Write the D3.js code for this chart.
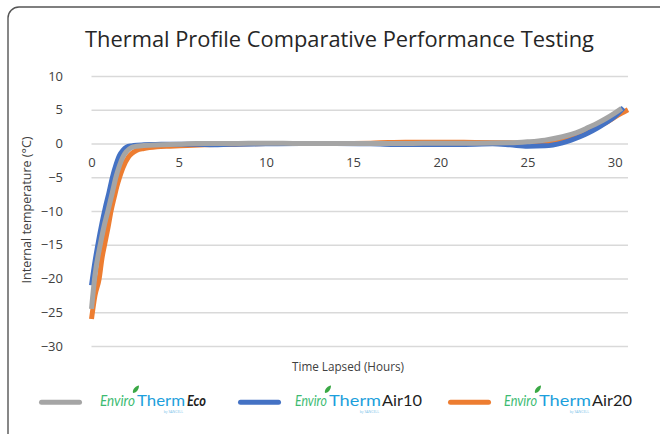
<!DOCTYPE html>
<html>
<head>
<meta charset="utf-8">
<script src="https://cdn.jsdelivr.net/npm/d3@7"></script>
<style>
  body { margin: 0; background: #fff; }
  text { font-family: "Open Sans", "Noto Sans", sans-serif; fill: #404040; }
</style>
</head>
<body>
<script>
// series data (hours, deg C)
var ecoTime  = [0, 0.2, 0.5, 0.7, 0.94, 1.2, 1.4, 1.6, 1.8, 2.0, 2.3, 2.6, 3.0, 4, 5, 6, 8, 10, 12, 14, 16, 18, 20, 22, 24, 25, 26, 27, 27.5, 28, 28.5, 29, 29.5, 30, 30.4];
var ecoTemp  = [-24.5, -19.5, -15, -12.5, -10, -7.2, -5, -3.3, -2.0, -1.2, -0.6, -0.4, -0.3, -0.2, -0.1, 0, 0, 0.05, 0, 0, 0, 0, 0.05, 0.05, 0.1, 0.25, 0.5, 1.0, 1.35, 1.8, 2.4, 3.0, 3.7, 4.5, 5.2];

var air10Time = [0, 0.2, 0.4, 0.6, 0.8, 1.0, 1.2, 1.4, 1.6, 1.8, 2.0, 2.3, 2.6, 3.0, 3.5, 4, 5, 6, 7, 8, 10, 12, 14, 16, 18, 20, 22, 23, 24, 25, 26, 27, 27.5, 28, 28.5, 29, 29.5, 30, 30.5];
var air10Temp = [-21, -17.5, -14.5, -11.8, -9.4, -7.3, -5.0, -3.2, -1.8, -1.0, -0.55, -0.35, -0.25, -0.2, -0.15, -0.1, -0.1, -0.1, -0.2, -0.1, -0.05, 0, 0, -0.05, -0.15, -0.15, -0.1, -0.05, -0.2, -0.4, -0.35, 0.1, 0.5, 1.0, 1.6, 2.3, 3.1, 4.0, 5.3];

var air20Time = [0, 0.2, 0.44, 0.6, 0.75, 0.95, 1.12, 1.3, 1.45, 1.61, 1.8, 2.12, 2.3, 2.6, 3.0, 3.75, 4.5, 5.5, 6.5, 8, 10, 12, 14, 16, 17, 18, 20, 22, 24, 25, 26, 27, 27.5, 28, 28.5, 29, 29.5, 30, 30.4, 30.76];
var air20Temp = [-26, -22.5, -20, -17, -15, -12.4, -10, -8, -6.4, -5, -3.6, -2, -1.5, -1.0, -0.75, -0.5, -0.4, -0.3, -0.2, -0.1, 0, 0, 0, 0.05, 0.15, 0.2, 0.2, 0.15, 0.1, 0.05, 0.2, 0.6, 0.95, 1.4, 1.9, 2.5, 3.1, 3.9, 4.5, 5.0];

var xTicks = [0, 5, 10, 15, 20, 25, 30];
var yTicks = [10, 5, 0, -5, -10, -15, -20, -25, -30];

var W = 660, H = 434;
var plotLeft = 91.5, plotRight = 628, plotTop = 76, plotBottom = 346;

var svg = d3.select("body").append("svg")
    .attr("width", W)
    .attr("height", H);

// frame
svg.append("path")
    .attr("d", "M8,436 L8,18 A11,11 0 0 1 19,7 L662,7")
    .attr("fill", "none")
    .attr("stroke", "#555")
    .attr("stroke-width", 1.4);

var x = d3.scaleLinear().domain([0, 30.76]).range([plotLeft, plotRight]);
var y = d3.scaleLinear().domain([-30, 10]).range([plotBottom, plotTop]);

// gridlines + y labels
var yAxis = svg.append("g")
    .attr("transform", "translate(" + plotLeft + ",0)")
    .call(d3.axisLeft(y).tickValues(yTicks).tickSize(-(plotRight - plotLeft)).tickPadding(28.5));
yAxis.select(".domain").remove();
yAxis.selectAll("line").attr("stroke", "#d9d9d9").attr("stroke-width", 1.5);
yAxis.selectAll("text").attr("font-size", 13).attr("fill", "#404040")
    .style("font-family", "'Open Sans', sans-serif");

// x labels sit under the zero line
var xAxis = svg.append("g")
    .attr("transform", "translate(0," + y(0) + ")")
    .call(d3.axisBottom(x).tickValues(xTicks).tickSize(0).tickPadding(14.5));
xAxis.select(".domain").remove();
xAxis.selectAll("text").attr("font-size", 13).attr("fill", "#404040")
    .style("font-family", "'Open Sans', sans-serif");

var line = d3.line()
    .x(function(d) { return x(d[0]); })
    .y(function(d) { return y(d[1]); })
    .curve(d3.curveMonotoneX);

var series = [
  {t: air20Time, v: air20Temp, color: "#ed7d31"},
  {t: air10Time, v: air10Temp, color: "#4472c4"},
  {t: ecoTime,   v: ecoTemp,   color: "#a5a5a5"}
];

series.forEach(function(s) {
  var pts = s.t.map(function(t, i) { return [t, s.v[i]]; });
  svg.append("path")
      .datum(pts)
      .attr("fill", "none")
      .attr("stroke", s.color)
      .attr("stroke-width", 5)
      .attr("stroke-linejoin", "round")
      .attr("d", line);
});

// title
svg.append("text")
    .attr("x", 339.5)
    .attr("y", 47.3)
    .attr("text-anchor", "middle")
    .attr("font-size", 21.5)
    .attr("textLength", 509)
    .attr("lengthAdjust", "spacingAndGlyphs")
    .style("fill", "#262626")
    .text("Thermal Profile Comparative Performance Testing");

svg.append("text")
    .attr("transform", "translate(31,210) rotate(-90)")
    .attr("text-anchor", "middle")
    .attr("font-size", 12)
    .attr("textLength", 147)
    .attr("lengthAdjust", "spacingAndGlyphs")
    .text("Internal temperature (°C)");

svg.append("text")
    .attr("x", 348)
    .attr("y", 371)
    .attr("text-anchor", "middle")
    .attr("font-size", 12)
    .attr("textLength", 112)
    .attr("lengthAdjust", "spacingAndGlyphs")
    .text("Time Lapsed (Hours)");

// legend
var legend = [
  {color: "#a5a5a5", lx: 39, tx: [100, 137, 187], w: [35, 48, 19], name: "Eco", bold: true},
  {color: "#4472c4", lx: 238, tx: [295, 329, 382], w: [32, 52, 40], name: "Air10", bold: false},
  {color: "#ed7d31", lx: 448, tx: [504, 539, 592], w: [33, 52, 40], name: "Air20", bold: false}
];

legend.forEach(function(l) {
  var g = svg.append("g");
  g.append("line")
      .attr("x1", l.lx + 2.5).attr("x2", l.lx + 40.5)
      .attr("y1", 402.3).attr("y2", 402.3)
      .attr("stroke", l.color)
      .attr("stroke-width", 5)
      .attr("stroke-linecap", "round");
  g.append("text")
      .attr("x", l.tx[0]).attr("y", 405.5)
      .attr("font-size", 15)
      .attr("font-style", "italic")
      .attr("textLength", l.w[0])
      .attr("lengthAdjust", "spacingAndGlyphs")
      .style("font-family", "Lato, sans-serif")
      .style("fill", "#3dbb72")
      .text("Enviro");
  g.append("text")
      .attr("x", l.tx[1]).attr("y", 405.5)
      .attr("font-size", 15)
      .attr("textLength", l.w[1])
      .attr("lengthAdjust", "spacingAndGlyphs")
      .style("font-family", "Lato, sans-serif")
      .style("fill", "#1d9fdc")
      .text("Therm");
  g.append("text")
      .attr("x", l.tx[2]).attr("y", 405.5)
      .attr("font-size", 15)
      .attr("font-weight", l.bold ? "bold" : "normal")
      .attr("font-style", l.bold ? "italic" : "normal")
      .attr("textLength", l.w[2])
      .attr("lengthAdjust", "spacingAndGlyphs")
      .style("font-family", "Lato, sans-serif")
      .style("fill", "#1f1f1f")
      .text(l.name);
  // small "by SANCELL" under the logo
  g.append("text")
      .attr("x", l.tx[1] + l.w[1] - 2).attr("y", 413)
      .attr("text-anchor", "end")
      .attr("font-size", 3.5)
      .style("fill", "#7cc3ea")
      .text("by SANCELL");
  // leaf over the "o"
  var lx = l.tx[1] - 4, ly = 393;
  g.append("path")
      .attr("d", "M" + lx + "," + ly + " C" + (lx - 1) + "," + (ly - 4) + " " + (lx + 3) + "," + (ly - 7) + " " + (lx + 6) + "," + (ly - 7.5) +
            " C" + (lx + 6) + "," + (ly - 3) + " " + (lx + 3) + "," + (ly) + " " + lx + "," + ly + "Z")
      .attr("fill", "#3aa845");
});
</script>
</body>
</html>
